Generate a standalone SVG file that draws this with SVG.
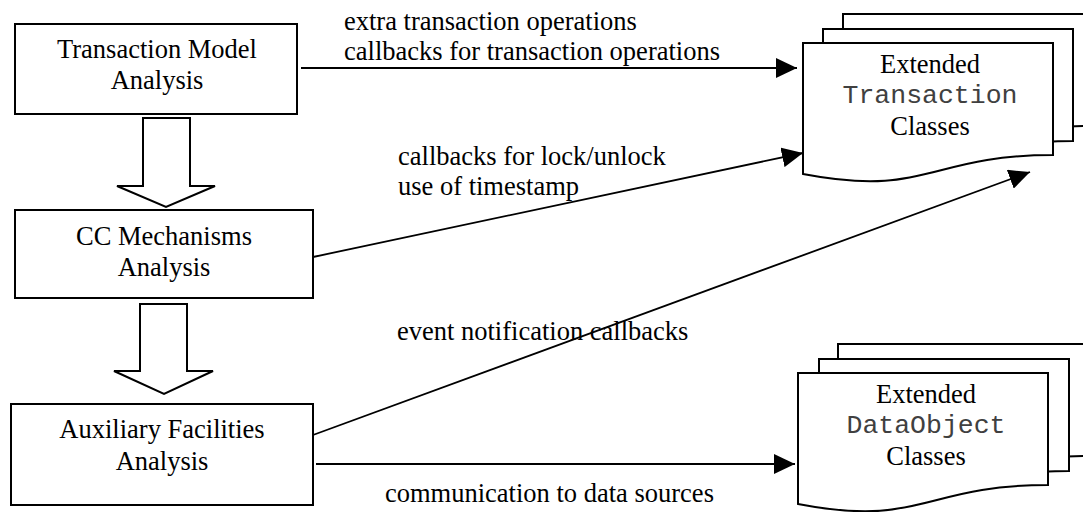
<svg xmlns="http://www.w3.org/2000/svg" width="1083" height="512" viewBox="0 0 1083 512">
<style>
  .box { fill: #fff; stroke: #000; stroke-width: 2; }
  .page { fill: #fff; stroke: #000; stroke-width: 2; stroke-linejoin: miter; }
  .blk { fill: #fff; stroke: #000; stroke-width: 2; stroke-linejoin: miter; }
  .t { font-family: "Liberation Serif", "Times New Roman", serif; font-size: 26.5px; fill: #000; }
  .c { text-anchor: middle; }
  .m { font-family: "Liberation Mono", "Courier New", monospace; font-size: 26.5px; fill: #404040; text-anchor: middle; }
  .conn { fill: none; stroke: #000; stroke-width: 1.8; }
</style>
<defs>
  <marker id="ah" markerUnits="userSpaceOnUse" markerWidth="22" markerHeight="20" refX="21" refY="10" orient="auto">
    <path d="M0,0 L21,10 L0,20 Z" fill="#000"/>
  </marker>
  <path id="doc" d="M0,0 H250 V112 C125,112 125,155 0,131 Z"/>
</defs>
<rect width="1083" height="512" fill="#fff"/>

<g id="node-tma">
  <rect class="box" x="15" y="24" width="282" height="90"/>
  <text class="t c" x="157" y="58">Transaction Model</text>
  <text class="t c" x="157" y="89">Analysis</text>
</g>

<g id="node-cc">
  <rect class="box" x="15" y="210" width="298" height="88"/>
  <text class="t c" x="164" y="245">CC Mechanisms</text>
  <text class="t c" x="164" y="276">Analysis</text>
</g>

<g id="node-aux">
  <rect class="box" x="11" y="404" width="302" height="101"/>
  <text class="t c" x="162" y="438">Auxiliary Facilities</text>
  <text class="t c" x="162" y="470">Analysis</text>
</g>

<g id="node-ext-transaction">
  <use href="#doc" class="page" x="843" y="14"/>
  <use href="#doc" class="page" x="823" y="29"/>
  <use href="#doc" class="page" x="803" y="43"/>
  <text class="t c" x="930" y="73">Extended</text>
  <text class="m" x="930" y="103">Transaction</text>
  <text class="t c" x="930" y="135">Classes</text>
</g>

<g id="node-ext-dataobject">
  <use href="#doc" class="page" x="838" y="344"/>
  <use href="#doc" class="page" x="819" y="359"/>
  <use href="#doc" class="page" x="798" y="373"/>
  <text class="t c" x="926" y="403">Extended</text>
  <text class="m" x="926" y="433">DataObject</text>
  <text class="t c" x="926" y="465">Classes</text>
</g>

<g id="connectors">
  <path class="blk" d="M143,118 H190 V186 H215 L166,207 L117,186 H143 Z"/>
  <path class="blk" d="M140,304 H187 V371 H213 L164,394 L114,371 H140 Z"/>
  <line class="conn" x1="301" y1="68" x2="797" y2="68" marker-end="url(#ah)"/>
  <line class="conn" x1="313" y1="257" x2="803" y2="153" marker-end="url(#ah)"/>
  <line class="conn" x1="313" y1="435" x2="1030" y2="172" marker-end="url(#ah)"/>
  <line class="conn" x1="316" y1="464" x2="795" y2="464" marker-end="url(#ah)"/>
  <text class="t" x="344" y="30">extra transaction operations</text>
  <text class="t" x="344" y="60">callbacks for transaction operations</text>
  <text class="t" x="398" y="165">callbacks for lock/unlock</text>
  <text class="t" x="398" y="195">use of timestamp</text>
  <text class="t" x="397" y="340">event notification callbacks</text>
  <text class="t" x="385" y="502">communication to data sources</text>
</g>
</svg>
